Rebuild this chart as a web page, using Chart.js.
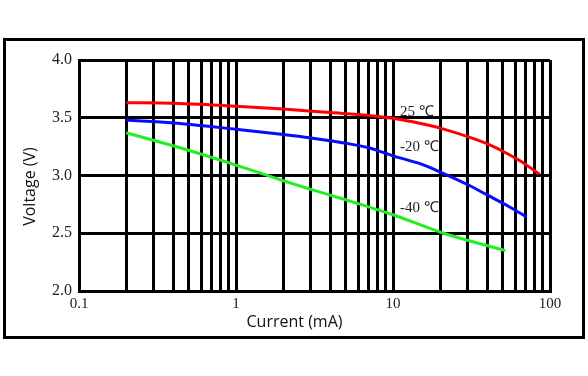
<!DOCTYPE html>
<html>
<head>
<meta charset="utf-8">
<script src="https://cdn.jsdelivr.net/npm/chart.js@4/dist/chart.umd.min.js"></script>
<style>
  body { margin: 0; background: #fff; }
  canvas { display: block; }
</style>
</head>
<body>
<canvas id="chart" width="588" height="376"></canvas>
<script>
// discharge curves
const redCurrent = [0.2, 0.4, 1, 2, 4, 7, 10, 15, 20, 34, 42, 50, 64, 86];
const redVoltage = [3.63, 3.625, 3.6, 3.575, 3.545, 3.52, 3.495, 3.45, 3.41, 3.31, 3.26, 3.21, 3.13, 3.01];

const blueCurrent = [0.2, 0.4, 1, 2, 3, 5, 7, 10, 15, 20, 30, 40, 55, 71];
const blueVoltage = [3.48, 3.455, 3.4, 3.355, 3.325, 3.28, 3.24, 3.17, 3.1, 3.03, 2.92, 2.83, 2.73, 2.64];

const greenCurrent = [0.2, 0.44, 1, 2, 3, 5, 10, 21, 52];
const greenVoltage = [3.37, 3.24, 3.09, 2.955, 2.88, 2.79, 2.66, 2.5, 2.35];

const tempLabels = ["25 ℃", "-20 ℃", "-40 ℃"];
const tempLabelCurrent = [14.2, 14.7, 14.7];
const tempLabelVoltage = [3.55, 3.25, 2.72];

const xGridValues = [0.1, 0.2, 0.3, 0.4, 0.5, 0.6, 0.7, 0.8, 0.9,
  1, 2, 3, 4, 5, 6, 7, 8, 9,
  10, 20, 30, 40, 50, 60, 70, 80, 90, 100];
const xTickLabels = ["0.1", "1", "10", "100"];

function points(xs, ys) {
  return xs.map((x, i) => ({ x: x, y: ys[i] }));
}

const extras = {
  id: "extras",
  beforeDraw(chart) {
    const ctx = chart.ctx;
    ctx.save();
    ctx.fillStyle = "#fff";
    ctx.fillRect(0, 0, chart.width, chart.height);
    ctx.strokeStyle = "#000";
    ctx.lineWidth = 3;
    ctx.strokeRect(4.5, 39.5, 579, 298);
    ctx.restore();
  },
  afterDatasetsDraw(chart) {
    const ctx = chart.ctx;
    const xs = chart.scales.x;
    const ys = chart.scales.y;
    ctx.save();
    ctx.fillStyle = "#222";
    ctx.font = "15px 'Liberation Serif', serif";
    ctx.textAlign = "center";
    ctx.textBaseline = "middle";
    for (let i = 0; i < tempLabels.length; i++) {
      ctx.fillText(
        tempLabels[i],
        xs.getPixelForValue(tempLabelCurrent[i]),
        ys.getPixelForValue(tempLabelVoltage[i])
      );
    }
    // axis titles sit a little off-centre in the original
    const a = chart.chartArea;
    ctx.fillStyle = "#111";
    ctx.font = "16px 'Open Sans', sans-serif";
    ctx.fillText("Current (mA)", (a.left + a.right) / 2 - 20, 322);
    ctx.translate(30, (a.top + a.bottom) / 2 + 11);
    ctx.rotate(-Math.PI / 2);
    ctx.fillText("Voltage (V)", 0, 0);
    ctx.restore();
  },
};

const config = {
  type: "line",
  data: {
    datasets: [
      {
        label: "25 ℃",
        data: points(redCurrent, redVoltage),
        borderColor: "#ff0000",
        borderWidth: 3,
      },
      {
        label: "-20 ℃",
        data: points(blueCurrent, blueVoltage),
        borderColor: "#0a0aff",
        borderWidth: 3,
      },
      {
        label: "-40 ℃",
        data: points(greenCurrent, greenVoltage),
        borderColor: "#22ee22",
        borderWidth: 3,
      },
    ],
  },
  options: {
    responsive: false,
    animation: false,
    cubicInterpolationMode: "monotone",
    elements: { point: { radius: 0 } },
    layout: { padding: { top: 60, right: 38, left: 0, bottom: 0 } },
    plugins: { legend: { display: false }, tooltip: { enabled: false } },
    scales: {
      x: {
        type: "logarithmic",
        min: 0.1,
        max: 100,
        afterBuildTicks: (scale) => {
          scale.ticks = xGridValues.map((v) => ({ value: v }));
        },
        afterFit: (scale) => {
          scale.height = 85;
        },
        grid: { color: "#000", lineWidth: 3, drawTicks: false },
        border: { color: "#000", width: 3 },
        ticks: {
          autoSkip: false,
          maxRotation: 0,
          padding: 4,
          color: "#222",
          font: { family: "'Liberation Serif', serif", size: 15 },
          callback: (v) => (xTickLabels.includes(String(v)) ? String(v) : ""),
        },
      },
      y: {
        min: 2,
        max: 4,
        afterFit: (scale) => {
          scale.width = 79;
        },
        grid: { color: "#000", lineWidth: 3, drawTicks: false },
        border: { color: "#000", width: 3 },
        ticks: {
          stepSize: 0.5,
          padding: 7,
          color: "#222",
          font: { family: "'Liberation Serif', serif", size: 16 },
          callback: (v) => v.toFixed(1),
        },
      },
    },
  },
  plugins: [extras],
};

new Chart(document.getElementById("chart").getContext("2d"), config);
</script>
</body>
</html>
